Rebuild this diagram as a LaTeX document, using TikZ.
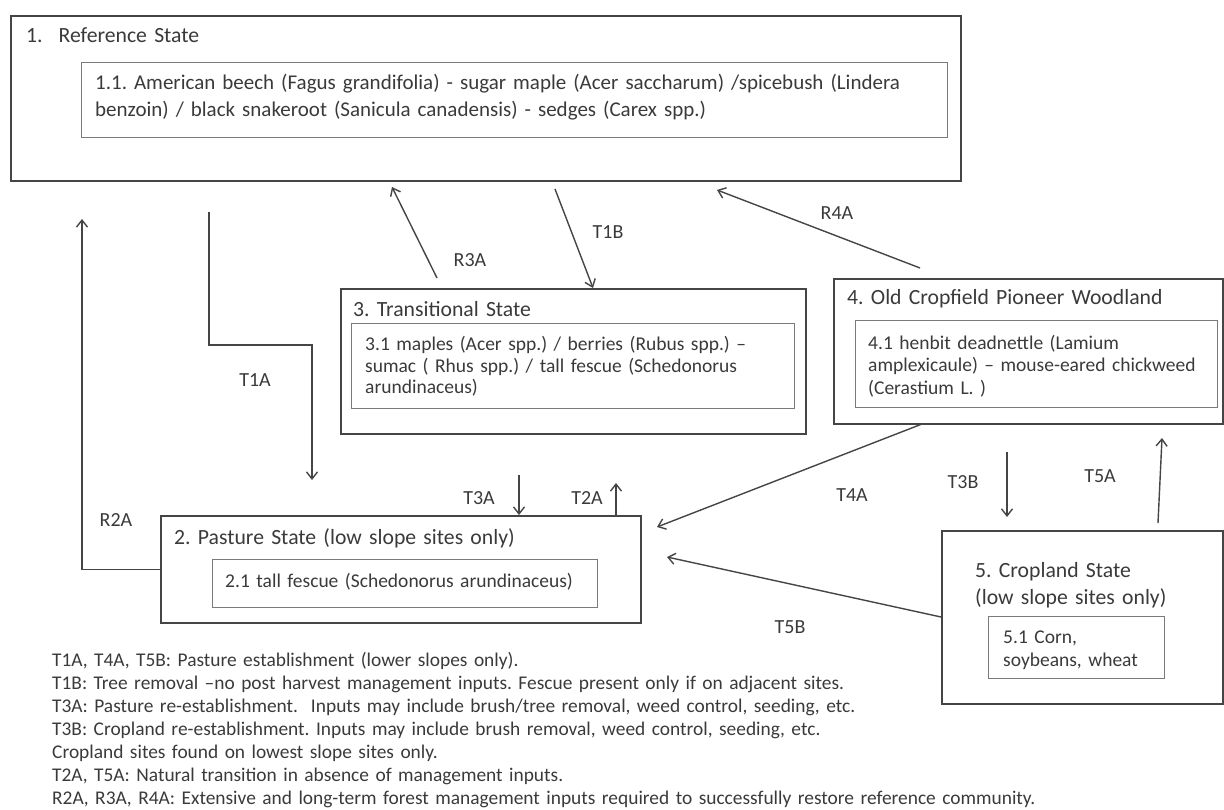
\documentclass[tikz,border=0pt]{standalone}
\usepackage{fontspec}
\setmainfont{Carlito}
\frenchspacing
\usetikzlibrary{arrows.meta}

\definecolor{ink}{HTML}{3A3A3A}
\definecolor{rim}{HTML}{454545}
\definecolor{thin}{HTML}{7A7A7A}

\tikzset{
  statebox/.style={draw=rim, line width=2.2pt, anchor=north west, inner sep=0pt},
  phasebox/.style={draw=thin, line width=1.3pt, anchor=north west, inner sep=0pt},
  statename/.style={anchor=base west, inner sep=0pt, text=ink, align=left, text width=420pt, font=\fontsize{21.7}{27}\selectfont},
  phasetext/.style={anchor=base west, inner sep=0pt, text=ink, align=left},
  pathway/.style={draw=rim, line width=1.4pt, -{Straight Barb[length=7pt,width=11pt]}},
  pathname/.style={text=ink, inner sep=1pt, font=\fontsize{20}{22}\selectfont},
}

\begin{document}
\begin{tikzpicture}[x=1pt,y=-1pt]
  \useasboundingbox (0,0) rectangle (1224,810);

  % states
  \node[statebox, minimum width=950pt, minimum height=165pt] (ref) at (10,15) {};
  \node[phasebox, minimum width=866pt, minimum height=75pt] (ref1) at (81,62) {};
  \node[statename] (reft) at (26,43) {1.\hspace{16pt}Reference State};
  \node[phasetext, text width=850pt, font=\fontsize{21}{27}\selectfont] (ref1t) at (95,90)
    {1.1. American beech (Fagus grandifolia) - sugar maple (Acer saccharum) /spicebush (Lindera\\
     benzoin) / black snakeroot (Sanicula canadensis) - sedges (Carex spp.)};

  \node[statebox, minimum width=465pt, minimum height=145pt] (trans) at (340,288) {};
  \node[phasebox, minimum width=443pt, minimum height=85pt] (trans1) at (351,323) {};
  \node[statename] (transt) at (353,317) {3. Transitional State};
  \node[phasetext, text width=425pt, font=\fontsize{19.5}{21.5}\selectfont] (trans1t) at (365,351)
    {3.1 maples (Acer spp.) / berries (Rubus spp.) --\\
     sumac ( Rhus spp.) / tall fescue (Schedonorus\\
     arundinaceus)};

  \node[statebox, minimum width=389pt, minimum height=145pt] (wood) at (833,278) {};
  \node[phasebox, minimum width=362pt, minimum height=87pt] (wood1) at (855,320) {};
  \node[statename, text width=360pt] (woodt) at (847,305) {4. Old Cropfield Pioneer Woodland};
  \node[phasetext, text width=345pt, font=\fontsize{19.5}{23}\selectfont] (wood1t) at (868,349)
    {4.1 henbit deadnettle (Lamium\\
     amplexicaule) -- mouse-eared chickweed\\
     (Cerastium L. )};

  \node[statebox, minimum width=480pt, minimum height=107pt] (past) at (160,515) {};
  \node[phasebox, minimum width=385pt, minimum height=48pt] (past1) at (212,559) {};
  \node[statename] (pastt) at (174,544) {2. Pasture State (low slope sites only)};
  \node[phasetext, text width=370pt, font=\fontsize{19.5}{23}\selectfont] (past1t) at (225,587)
    {2.1 tall fescue (Schedonorus arundinaceus)};

  \node[statebox, minimum width=281pt, minimum height=173pt] (crop) at (941,530) {};
  \node[phasebox, minimum width=176pt, minimum height=62pt] (crop1) at (988,616) {};
  \node[statename, text width=240pt] (cropt) at (975,577) {5. Cropland State\\(low slope sites only)};
  \node[phasetext, text width=160pt, font=\fontsize{19.5}{23}\selectfont] (crop1t) at (1003,643)
    {5.1 Corn,\\
     soybeans, wheat};

  % pathway ends
  \coordinate (t1a-s) at (209,212);
  \coordinate (t1a-e) at (312,480);
  \coordinate (r2a-e) at (82,219);
  \coordinate (r3a-s) at (437,278);
  \coordinate (r3a-e) at (392,187);
  \coordinate (t1b-s) at (555,189);
  \coordinate (t1b-e) at (593,288);
  \coordinate (r4a-s) at (920,268);
  \coordinate (r4a-e) at (717,190);
  \coordinate (t3a-s) at (519,475);
  \coordinate (t2a-e) at (616,483);
  \coordinate (t4a-s) at (922,424);
  \coordinate (t4a-e) at (657,527);
  \coordinate (t3b-s) at (1007,452);
  \coordinate (t3b-e) at (1007,517);
  \coordinate (t5a-s) at (1158,523);
  \coordinate (t5a-e) at (1162,438);
  \coordinate (t5b-s) at (941,617);
  \coordinate (t5b-e) at (667,557);

  % transitions
  \draw[pathway] (t1a-s) -- (209,345) -| (t1a-e);
  \draw[pathway] (t1b-s) -- (t1b-e);
  \draw[pathway] (t3a-s) -- (t3a-s |- past.north);
  \draw[pathway] (t4a-s) -- (t4a-e);
  \draw[pathway] (t3b-s) -- (t3b-e);
  \draw[pathway] (t5b-s) -- (t5b-e);
  \draw[pathway] (t2a-e |- past.north) -- (t2a-e);
  \draw[pathway] (t5a-s) -- (t5a-e);

  % restoration
  \draw[pathway] (past.west) -| (r2a-e);
  \draw[pathway] (r3a-s) -- (r3a-e);
  \draw[pathway] (r4a-s) -- (r4a-e);

  \node[pathname] (lt1a) at (255,380) {T1A};
  \node[pathname] (lr2a) at (116,520) {R2A};
  \node[pathname] (lr3a) at (470,260) {R3A};
  \node[pathname] (lt1b) at (608,232) {T1B};
  \node[pathname] (lr4a) at (837,213) {R4A};
  \node[pathname] (lt3a) at (479,498) {T3A};
  \node[pathname] (lt2a) at (587,498) {T2A};
  \node[pathname] (lt4a) at (852,495) {T4A};
  \node[pathname] (lt3b) at (963,482) {T3B};
  \node[pathname] (lt5a) at (1100,476) {T5A};
  \node[pathname] (lt5b) at (790,627) {T5B};

  % key
  \node[phasetext, text width=1100pt, font=\fontsize{19.4}{23.1}\selectfont] (key) at (52,666)
    {T1A, T4A, T5B: Pasture establishment (lower slopes only).\\
     T1B: Tree removal --no post harvest management inputs. Fescue present only if on adjacent sites.\\
     T3A: Pasture re-establishment.\ \ Inputs may include brush/tree removal, weed control, seeding, etc.\\
     T3B: Cropland re-establishment. Inputs may include brush removal, weed control, seeding, etc.\\
     Cropland sites found on lowest slope sites only.\\
     T2A, T5A: Natural transition in absence of management inputs.\\
     R2A, R3A, R4A: Extensive and long-term forest management inputs required to successfully restore reference community.};
\end{tikzpicture}
\end{document}
